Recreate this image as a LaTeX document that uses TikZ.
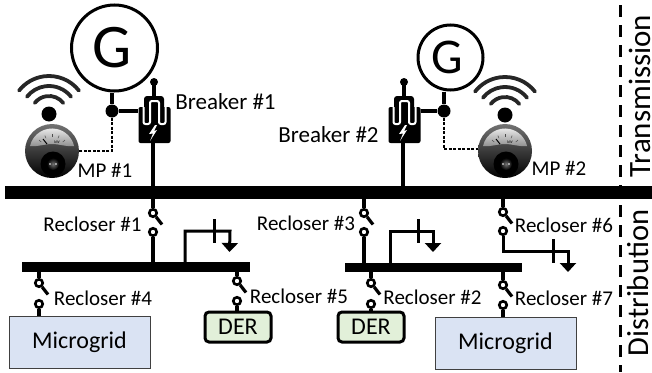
\documentclass[tikz,border=0pt]{standalone}
\usepackage{fontspec}
\setmainfont{Carlito}
\usetikzlibrary{arrows.meta}
\definecolor{gridblue}{HTML}{DAE3F3}
\definecolor{dergreen}{HTML}{E2F0D9}

\begin{document}
\begin{tikzpicture}[x=1pt,y=-1pt]
\tikzset{every node/.style={inner sep=0pt,font=\fontsize{21}{23}\selectfont}}
\tikzset{busbar/.style={fill=black,minimum height=#1}}
\tikzset{contact/.style={circle,draw,fill=white,line width=2.6pt,minimum size=7.5pt}}
\tikzset{junction/.style={circle,fill=black,minimum size=13pt}}
\tikzset{gen/.style={circle,draw,line width=3pt,minimum size=#1}}
\tikzset{wire/.style={line width=4pt}}
\tikzset{blade/.style={line width=3.2pt}}
\tikzset{feeder/.style={line width=3pt}}
\tikzset{signal/.style={dash pattern=on 3pt off 1.5pt,line width=1.1pt}}
\tikzset{breakerlabel/.style={font=\fontsize{23}{25}\selectfont}}
\tikzset{gridbox/.style={draw=black!75,line width=1pt,fill=gridblue,font=\fontsize{24}{26}\selectfont}}
\tikzset{derbox/.style={draw,line width=3pt,rounded corners=4pt,fill=dergreen,font=\fontsize{24}{26}\selectfont}}
\tikzset{sidetext/.style={rotate=90,anchor=base,font=\fontsize{#1}{#1}\selectfont}}
\tikzset{breaker/.pic={
  \fill[rounded corners=2pt] (-14.5,-4) rectangle (17.5,32);
  \fill[rounded corners=3pt] (-9,-15) rectangle (11,8);
  \draw[line width=3.4pt] (1,-29) -- (1,-15);
  \fill (1,-29) circle (4);
  \draw[white,line width=2pt,rounded corners=2pt] (-9.5,-4) -- (-9.5,13) -- (-3,13) -- (-3,-10) -- (6,-10) -- (6,13) -- (12.5,13) -- (12.5,-4);
  \fill[white] (2,14) -- (-4,23) -- (0,22.5) -- (-3,30) -- (4,19) -- (1,20) -- (4,14) -- cycle;
  \node[minimum width=32pt,minimum height=36pt] (-body) at (1.5,14) {};
}}
\tikzset{meter/.pic={
  \shade[top color=black!55,bottom color=black] (0,0) circle (27);
  \shade[top color=black!5,bottom color=black!45] (-22,-5) arc (193:347:22.6) .. controls (14,-4) and (8,-7) .. (0,-7) .. controls (-8,-7) and (-14,-4) .. cycle;
  \foreach \a in {-50,-25,0,25,50}{\draw[black!70,line width=.5pt] (0,0)++(\a-90:14) -- ++(\a-90:3);}
  \draw[black,line width=1pt] (-9,-12) -- (-5,-7);
  \node[font=\fontsize{4}{4}\selectfont] (-unit) at (5,-9) {kW};
  \fill[black] (1,13) circle (12.5);
  \shade[inner color=black!55,outer color=black] (1,13) circle (6);
  \fill[white] (-2,13) circle (.8) (4,13) circle (.8);
}}
\tikzset{wifi/.pic={
  \fill (0,0) circle (7.5);
  \foreach \r in {18,28,38}{\draw[line width=3.8pt,black!85,line cap=round] (-38:\r) arc (-38:-142:\r);}
}}
\useasboundingbox (0,0) rectangle (652,372);
% main bus and the two lower buses
\node[busbar=13pt,minimum width=647pt] (mainbus) at (328.5,192.5) {};
\node[busbar=10pt,minimum width=228pt] (busleft) at (136,267) {};
\node[busbar=9pt,minimum width=177pt] (busright) at (433.5,267.5) {};
% generators
\node[gen=86pt] (gena) at (114.5,48) {};
\node[font=\fontsize{62}{62}\selectfont] (gatext) at (112,48) {G};
\node[gen=65pt] (genb) at (450.5,57.5) {};
\node[font=\fontsize{50}{50}\selectfont] (gbtext) at (447,57) {G};
\node[junction] (juna) at (112,111) {};
\node[junction] (junb) at (444,111) {};
\pic (brka) at (153,111) {breaker};
\pic (brkb) at (403,111) {breaker};
\draw[wire] (gena.south -| juna) -- (juna);
\draw[wire] (genb.south -| junb) -- (junb);
\draw[wire] (juna) -- (juna -| brka-body.west);
\draw[wire] (junb) -- (junb -| brkb-body.east);
\draw[wire] (brka-body.south -| 153,0) -- (153,186);
\draw[wire] (brkb-body.south -| 403,0) -- (403,186);
% measuring points
\coordinate (mpaout) at (79,151);
\coordinate (mpbout) at (478,149);
\draw[signal] (juna) |- (mpaout);
\draw[signal] (junb) |- (mpbout);
\pic (mpa) at (52,151) {meter};
\pic (mpb) at (505,151) {meter};
\pic at (49,114) {wifi};
\pic at (505,115) {wifi};
\node (mpalabel) at (105,170) {MP \#1};
\node (mpblabel) at (559,168) {MP \#2};
\node[breakerlabel] (brkalabel) at (225.5,102) {Breaker \#1};
\node[breakerlabel] (brkblabel) at (328.5,135) {Breaker \#2};
% reclosers
\foreach \name/\x/\yu/\yl in {ra/153/213/232,rb/371/283/304,rc/364/213/232,rd/39/283/304,re/237/281/301,rf/503/212/231,rg/503/285/305}{
  \node[contact] (\name u) at (\x,\yu) {};
  \node[contact] (\name l) at (\x,\yl) {};
  \draw[blade] (\name u) -- +(9,11.5);
}
\draw[wire] (rau) -- (rau |- mainbus.south);
\draw[wire] (rcu) -- (rcu |- mainbus.south);
\draw[wire] (rfu) -- (rfu |- mainbus.south);
\draw[wire] (ral) -- (ral |- busleft.north);
\draw[wire] (rcl) -- (rcl |- busright.north);
\draw[wire] (rdu) -- (rdu |- busleft.south);
\draw[wire] (reu) -- (reu |- busleft.south);
\draw[wire] (rbu) -- (rbu |- busright.south);
\draw[wire] (rgu) -- (rgu |- busright.south);
\node (ralabel) at (92.5,224) {Recloser \#1};
\node (rclabel) at (306,223) {Recloser \#3};
\node (rflabel) at (564,225) {Recloser \#6};
\node (rdlabel) at (103,298) {Recloser \#4};
\node (relabel) at (299,296) {Recloser \#5};
\node (rblabel) at (432.5,297) {Recloser \#2};
\node (rglabel) at (564,298) {Recloser \#7};
% loads
\coordinate (loada) at (229.5,252);
\coordinate (loadb) at (433,252);
\coordinate (loadc) at (568,272);
\draw[feeder,-{Triangle[width=16pt,length=9pt]}] (busleft.north -| 185,0) |- (230,231) -- (loada);
\draw[feeder,-{Triangle[width=16pt,length=9pt]}] (busright.north -| 390,0) |- (433,231) -- (loadb);
\draw[feeder,-{Triangle[width=16pt,length=9pt]}] (rfl) |- (568,251) -- (loadc);
\draw[feeder] (214,219) -- (214,243);
\draw[feeder] (418,219) -- (418,243);
\draw[feeder] (553,239) -- (553,263);
% loads at the bottom
\node[gridbox,minimum width=141pt,minimum height=52pt] (gridleft) at (79.5,342) {Microgrid};
\node[gridbox,minimum width=141pt,minimum height=52pt] (gridright) at (505.5,343) {Microgrid};
\node[derbox,minimum width=66pt,minimum height=30pt] (derleft) at (238,327) {DER};
\node[derbox,minimum width=66pt,minimum height=30pt] (derright) at (371,327) {DER};
\draw[wire] (rdl) -- (gridleft.north -| rdl);
\draw[wire] (rel) -- (derleft.north -| rel);
\draw[wire] (rbl) -- (derright.north -| rbl);
\draw[wire] (rgl) -- (gridright.north -| rgl);
% transmission and distribution
\coordinate (sidetop) at (620,5);
\coordinate (sidebot) at (620,372);
\draw[line width=3pt,dash pattern=on 12pt off 8pt] (sidetop) -- (sidebot);
\node[sidetext=31] (transtext) at (650,96) {Transmission};
\node[sidetext=30.5] (disttext) at (648,283) {Distribution};
\end{tikzpicture}
\end{document}
